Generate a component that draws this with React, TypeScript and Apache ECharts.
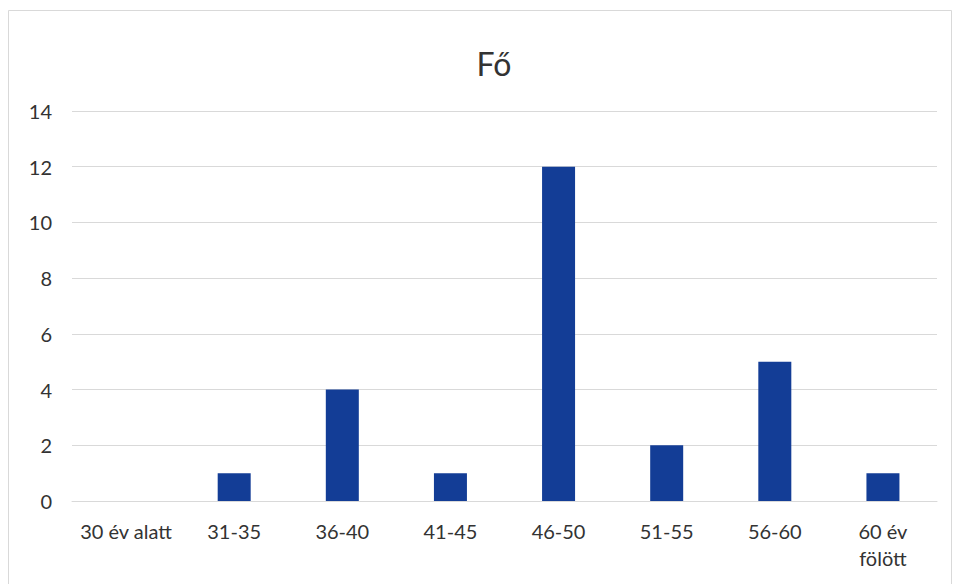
import React, { useEffect, useRef } from "react";
import * as echarts from "echarts";

const categories = ["30 év alatt", "31-35", "36-40", "41-45", "46-50", "51-55", "56-60", "60 év\nfölött"];
const values = [0, 1, 4, 1, 12, 2, 5, 1];
const titleText = "Fő";

export default function App() {
  const ref = useRef<HTMLDivElement>(null);
  useEffect(() => {
    if (!ref.current) return;
    const chart = echarts.init(ref.current, undefined, { renderer: "svg" });
    chart.setOption({
      animation: false,
      backgroundColor: "#ffffff",
      textStyle: { fontFamily: "Lato, 'Noto Sans', sans-serif" },
      title: {
        text: titleText,
        left: 489,
        top: 42,
        textAlign: "center",
        textStyle: { fontSize: 32, fontWeight: "normal", color: "#333333", fontFamily: "Lato, 'Noto Sans', sans-serif" },
      },
      graphic: [
        {
          type: "rect",
          shape: { x: 8.5, y: 10.5, width: 943, height: 600 },
          style: { fill: "none", stroke: "#d9d9d9", lineWidth: 1 },
          silent: true,
        },
      ],
      grid: { left: 72, right: 19, top: 111, bottom: 83, containLabel: false },
      xAxis: {
        type: "category",
        data: categories,
        axisLine: { show: true, lineStyle: { color: "#d9d9d9", width: 1 } },
        axisTick: { show: false },
        axisLabel: { color: "#333333", fontSize: 20, margin: 16, lineHeight: 27, interval: 0 },
      },
      yAxis: {
        type: "value",
        min: 0,
        max: 14,
        interval: 2,
        axisLine: { show: false },
        axisTick: { show: false },
        splitLine: { lineStyle: { color: "#d9d9d9", width: 1 } },
        axisLabel: { color: "#333333", fontSize: 20, margin: 20 },
      },
      series: [
        {
          type: "bar",
          data: values,
          barWidth: 33,
          itemStyle: { color: "#133d96" },
        },
      ],
    });
    return () => chart.dispose();
  }, []);
  return <div ref={ref} style={{ position: "fixed", left: 0, top: 0, width: 956, height: 584 }} />;
}
